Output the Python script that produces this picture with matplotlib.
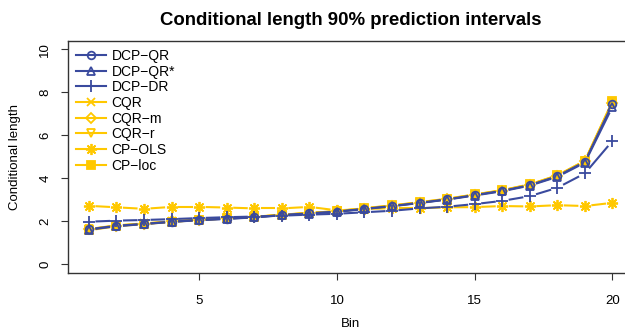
import numpy as np
import matplotlib
matplotlib.use("Agg")
import matplotlib.pyplot as plt
from matplotlib.lines import Line2D

plt.rcParams['font.family'] = ['Liberation Sans', 'DejaVu Sans']

bins = list(range(1, 21))
dcp_qr = [1.62,1.78,1.87,1.97,2.05,2.11,2.18,2.28,2.36,2.44,2.57,2.70,2.85,3.01,3.21,3.41,3.67,4.09,4.76,7.45]
dcp_qr_star = [1.60,1.76,1.86,1.96,2.04,2.10,2.17,2.27,2.35,2.43,2.56,2.69,2.84,3.00,3.19,3.39,3.65,4.06,4.72,7.32]
dcp_dr = [1.97,2.02,2.05,2.09,2.14,2.18,2.21,2.25,2.30,2.34,2.41,2.48,2.59,2.67,2.79,2.94,3.16,3.55,4.22,5.73]
cqr = [1.63,1.80,1.89,1.99,2.07,2.13,2.20,2.30,2.38,2.46,2.59,2.72,2.87,3.03,3.23,3.43,3.70,4.12,4.80,7.55]
cqr_m = [1.62,1.79,1.88,1.98,2.06,2.12,2.19,2.29,2.37,2.45,2.58,2.71,2.86,3.02,3.22,3.42,3.69,4.11,4.78,7.52]
cqr_r = [1.61,1.78,1.87,1.97,2.05,2.12,2.19,2.29,2.37,2.45,2.58,2.71,2.86,3.02,3.22,3.42,3.68,4.10,4.78,7.50]
cp_ols = [2.71,2.64,2.57,2.66,2.66,2.63,2.59,2.59,2.66,2.50,2.56,2.60,2.60,2.64,2.65,2.70,2.68,2.74,2.70,2.85]
cp_loc = [1.57,1.76,1.86,1.96,2.05,2.12,2.19,2.29,2.38,2.46,2.60,2.73,2.88,3.04,3.24,3.44,3.71,4.13,4.81,7.58]

labels = ["DCP\u2212QR", "DCP\u2212QR*", "DCP\u2212DR", "CQR", "CQR\u2212m", "CQR\u2212r", "CP\u2212OLS", "CP\u2212loc"]
x_ticks = [5, 10, 15, 20]
y_ticks = [0, 2, 4, 6, 8, 10]

BLUE = "#3A4A9E"
GOLD = "#FFC800"

series = [
    (dcp_qr, BLUE, 'o', dict(mfc='none'), 5.5),
    (dcp_qr_star, BLUE, '^', dict(mfc='none'), 6),
    (dcp_dr, BLUE, '+', dict(), 8),
    (cqr, GOLD, 'x', dict(), 6),
    (cqr_m, GOLD, 'D', dict(mfc='none'), 5),
    (cqr_r, GOLD, 'v', dict(mfc='none'), 6),
    (cp_ols, GOLD, (8, 2, 0), dict(), 8),
    (cp_loc, GOLD, 's', dict(mfc=GOLD), 5.5),
]

fig = plt.figure(figsize=(6.25, 3.29), dpi=100)
ax = fig.add_axes([0.1088, 0.1714, 0.9046, 0.705])
ax.set_xlim(0.24, 20.76)
ax.set_ylim(-0.4, 10.4)

fig.canvas.draw()
gap = 6.5  # px gap around points (R type="b")

def draw_b(xs, ys, color, marker, extra, ms, z):
    pts = ax.transData.transform(np.column_stack([xs, ys]))
    inv = ax.transData.inverted()
    for i in range(len(pts) - 1):
        p0, p1 = pts[i], pts[i + 1]
        d = p1 - p0
        L = np.hypot(*d)
        if L <= 2 * gap:
            continue
        u = d / L
        a = inv.transform(p0 + u * gap)
        b = inv.transform(p1 - u * gap)
        ax.plot([a[0], b[0]], [a[1], b[1]], color=color, lw=1.5, zorder=z, solid_capstyle='butt')
    ax.plot(xs, ys, linestyle='none', marker=marker, color=color, ms=ms, mew=1.3, zorder=z + 0.5, **extra)

# gold series first, then blue on top
order = [3, 4, 5, 6, 7, 0, 1, 2]
for k, idx in enumerate(order):
    vals, col, mk, extra, ms = series[idx]
    draw_b(bins, vals, col, mk, extra, ms, 2 + k)

handles = []
for vals, col, mk, extra, ms in series:
    handles.append(Line2D([0], [0], color=col, lw=1.5, marker=mk, ms=ms, mew=1.3, **extra))
ax.legend(handles, labels, loc='upper left', frameon=False, fontsize=10,
          handlelength=2.1, handletextpad=0.45, labelspacing=0.12,
          borderaxespad=0.2, borderpad=0.4, bbox_to_anchor=(0.0, 1.0))

ax.set_xticks(x_ticks)
ax.set_yticks(y_ticks)
ax.set_yticklabels([str(v) for v in y_ticks], rotation=90, va='center')
ax.tick_params(axis='both', direction='out', length=5, width=0.8, labelsize=9.5, color='#333333')
ax.tick_params(axis='x', pad=11)
ax.tick_params(axis='y', pad=7)
for s in ax.spines.values():
    s.set_color('#333333')
    s.set_linewidth(1.0)

ax.set_xlabel("Bin", fontsize=9.5, labelpad=8)
ax.set_ylabel("Conditional length", fontsize=9.5, labelpad=13)
ax.set_title("Conditional length 90% prediction intervals", fontsize=13.4, fontweight='bold', pad=11)

fig.savefig("out.png", dpi=100)
